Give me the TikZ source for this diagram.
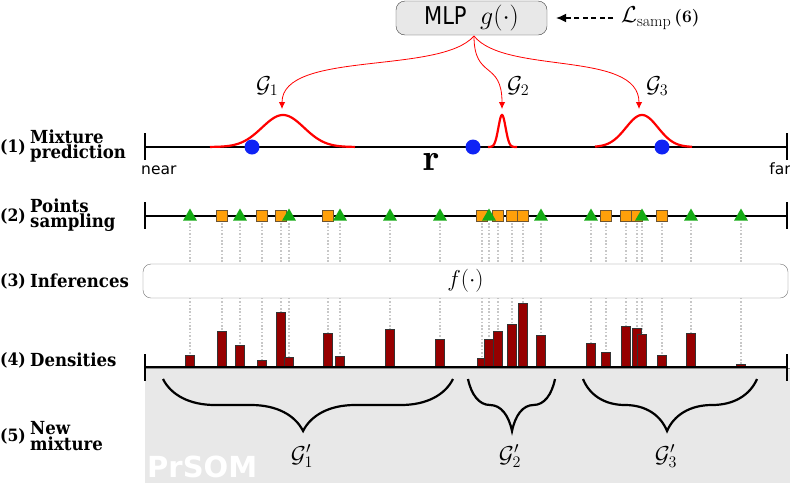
\RequirePackage{fix-cm}
\documentclass[tikz,border=0pt]{standalone}
\usepackage{fontspec}
\newfontfamily\lblfont{DejaVu Serif}[FakeStretch=0.92]
\newfontfamily\sansf{DejaVu Sans}
\newfontfamily\mlpfont{DejaVu Sans}[FakeStretch=0.86]
\usetikzlibrary{arrows.meta,shapes.geometric,decorations.pathreplacing}
\definecolor{dotblue}{RGB}{15,35,245}
\definecolor{trigreen}{RGB}{20,170,20}
\definecolor{sqorange}{RGB}{255,160,10}
\definecolor{sqedge}{RGB}{110,85,50}
\definecolor{barred}{RGB}{150,0,0}
\definecolor{regiongray}{RGB}{232,232,232}
\definecolor{boxgray}{RGB}{232,232,232}
\begin{document}
\begin{tikzpicture}[x=1pt,y=-1pt,
  axis/.style={line width=2.4pt,black},
  gauss/.style={red,line width=2.2pt},
  garrow/.style={red,line width=0.8pt,-{Latex[length=7pt,width=6.5pt]}},
  bluedot/.style={circle,fill=dotblue,inner sep=0pt,minimum size=15pt},
  trimark/.style={regular polygon,regular polygon sides=3,fill=trigreen,inner sep=0pt,minimum size=16pt},
  sqmark/.style={rectangle,fill=sqorange,draw=sqedge,line width=0.6pt,inner sep=0pt,minimum size=11.5pt},
  dotline/.style={draw=black!22,line width=1.6pt,dash pattern=on 1.6pt off 1.8pt},
  densbar/.style={fill=barred,draw=black!80,line width=0.6pt},
  numlbl/.style={font=\lblfont\bfseries\fontsize{17}{17}\selectfont,inner sep=0pt,anchor=west},
  lbl/.style={font=\lblfont\bfseries\fontsize{18}{18}\selectfont,inner sep=0pt,anchor=west},
  lbltwo/.style={font=\lblfont\bfseries\fontsize{18}{15.5}\selectfont,inner sep=0pt,anchor=west,align=left},
  mathlbl/.style={font=\fontsize{23}{25}\selectfont,inner sep=0pt},
  bracestyle/.style={line width=2.2pt,black,decorate,decoration={brace,mirror,amplitude=52pt}}
]
\useasboundingbox (0,0) rectangle (790,483);

% lower grey region
\fill[regiongray] (145,368) rectangle (790,483);
\draw[black!45,line width=0.8pt] (145,368.6) -- (790,368.6);
\node[anchor=base west,inner sep=0pt,text=white,font=\sansf\bfseries\fontsize{29}{29}\selectfont] (prsom) at (147,477) {PrSOM};

% MLP box
\node[draw=black!75,fill=boxgray,rounded corners=9pt,minimum width=151pt,minimum height=34pt,inner sep=0pt,
      font=\mlpfont\fontsize{24.5}{26}\selectfont] (mlp) at (471.5,18) {MLP\hspace{0.55em}{\fontsize{26}{28}\selectfont$g(\cdot)$}};
\node[anchor=west,inner sep=0pt] (loss) at (621,18) {{\fontsize{23}{25}\selectfont$\mathcal{L}_{\mathrm{samp}}$}\hspace{0.3em}{\fontsize{17.5}{19}\selectfont\textbf{(6)}}};
\draw[black,line width=1.1pt,dash pattern=on 5pt off 3.4pt,-{Latex[length=10pt,width=9pt]},shorten <=8pt,shorten >=9pt] (loss.west) -- (mlp.east);

% row labels
\node[numlbl] (n1) at (0,147) {(1)};
\node[lbltwo] (t1) at (30,146) {Mixture\\prediction};
\node[numlbl] (n2) at (0,216) {(2)};
\node[lbltwo] (t2) at (30,215) {Points\\sampling};
\node[numlbl] (n3) at (0,281) {(3)};
\node[lbl] (t3) at (30,281) {Inferences};
\node[numlbl] (n4) at (0,360) {(4)};
\node[lbl] (t4) at (30,360) {Densities};
\node[numlbl] (n5) at (0,436) {(5)};
\node[lbltwo] (t5) at (30,436) {New\\mixture};

% row 1: mixture prediction
\draw[axis] (145,147) -- (787,147);
\draw[axis] (145,133) -- (145,160);
\draw[axis] (787,133) -- (787,160);
\node[anchor=base west,inner sep=0pt,font=\sansf\fontsize{15.5}{17}\selectfont] (near) at (141,174) {near};
\node[anchor=base east,inner sep=0pt,font=\sansf\fontsize{15.5}{17}\selectfont] (far) at (791,174) {far};
\node[anchor=base,inner sep=0pt,font=\fontsize{38}{40}\selectfont] (r) at (431.5,170) {$\mathbf{r}$};

\draw[gauss,domain=210:355,samples=90] plot (\x,{147-32*exp(-0.5*((\x-283)/21)^2)});
\draw[gauss,domain=488:517,samples=60] plot (\x,{147-32*exp(-0.5*((\x-502)/3.6)^2)});
\draw[gauss,domain=595:692,samples=90] plot (\x,{147-32*exp(-0.5*((\x-642)/16)^2)});

\node[bluedot] (b1) at (252,147) {};
\node[bluedot] (b2) at (473,147) {};
\node[bluedot] (b3) at (662,147) {};

\coordinate (src) at (474,36);
\coordinate (p1) at (282,109);
\coordinate (p2) at (502,109);
\coordinate (p3) at (639,109);
\draw[garrow] (src) .. controls (440,75) and (282,50) .. (p1);
\draw[garrow] (src) .. controls (474,80) and (502,60) .. (p2);
\draw[garrow] (src) .. controls (505,75) and (639,50) .. (p3);
\node[mathlbl,anchor=base west] (g1) at (256,92) {$\mathcal{G}_1$};
\node[mathlbl,anchor=base west] (g2) at (507,92) {$\mathcal{G}_2$};
\node[mathlbl,anchor=base west] (g3) at (646,92) {$\mathcal{G}_3$};

% dotted lines
\foreach \px/\top in {190/355,222/331,240/345,262/360,281/312,289/357,328/333,340/356,390/329,440/339,
  482/358,489/339,498/331,512/324,523/303,541/335,591/343,606/352,626/326,637/328,642/334,662/355,691/333,741/364}
  \draw[dotline] (\px,223) -- (\px,\top);

% row 2: points sampling
\draw[axis] (145,216) -- (787,216);
\draw[axis] (145,202) -- (145,229);
\draw[axis] (787,202) -- (787,229);
\foreach \px [count=\i] in {222,262,281,328,482,498,512,523,606,626,637,662}
  \node[sqmark] (s\i) at (\px,216) {};
\foreach \px [count=\i] in {190,240,289,340,390,440,489,541,591,642,691,741}
  \node[trimark] (tr\i) at (\px,216.5) {};

% row 3: inferences
\node[draw=black!55,fill=white,rounded corners=8pt,minimum width=645pt,minimum height=34pt,inner sep=0pt,
      font=\fontsize{23}{25}\selectfont] (inf) at (465.5,281) {$f(\cdot)$};

% row 4: densities
\foreach \px/\top in {190/355,222/331,240/345,262/360,281/312,289/357,328/333,340/356,390/329,440/339,
  482/358,489/339,498/331,512/324,523/303,541/335,591/343,606/352,626/326,637/328,642/334,662/355,691/333,741/364}
  \draw[densbar] (\px-4.75,367) rectangle (\px+4.75,\top);
\draw[axis] (145,367) -- (787,367);
\draw[axis] (145,354) -- (145,381);
\draw[axis] (787,354) -- (787,381);

% row 5: new mixture
\node[mathlbl,anchor=base] (h1) at (302,462) {$\mathcal{G}'_1$};
\node[mathlbl,anchor=base] (h2) at (510,462) {$\mathcal{G}'_2$};
\node[mathlbl,anchor=base] (h3) at (666,462) {$\mathcal{G}'_3$};
\coordinate (a1) at (163,379); \coordinate (e1) at (453,379);
\coordinate (a2) at (468,379); \coordinate (e2) at (555,379);
\coordinate (a3) at (583,379); \coordinate (e3) at (757,379);
\draw[bracestyle,decoration={aspect=0.483}] (a1) -- (e1);
\draw[bracestyle,decoration={aspect=0.506}] (a2) -- (e2);
\draw[bracestyle,decoration={aspect=0.483}] (a3) -- (e3);
\end{tikzpicture}
\end{document}
